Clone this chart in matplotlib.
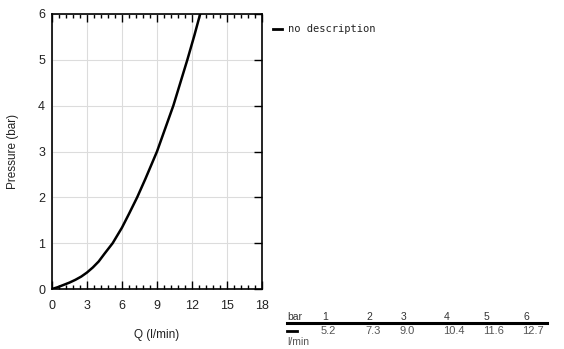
import numpy as np
import matplotlib.pyplot as plt
from matplotlib.ticker import MultipleLocator

plt.rcParams["font.family"] = ["Liberation Sans", "DejaVu Sans"]

# curve (Q l/min, pressure bar)
q = [0, 0.5, 1, 1.5, 2, 2.5, 3, 3.5, 4, 4.5, 5.2, 5.6, 6, 6.6, 7.3, 8.0,
     8.5, 9.0, 9.7, 10.4, 11.0, 11.6, 12.2, 12.7]
p = [0, 0.04, 0.09, 0.14, 0.2, 0.27, 0.36, 0.47, 0.6, 0.77, 1.0, 1.17, 1.34,
     1.64, 2.0, 2.4, 2.7, 3.0, 3.5, 4.0, 4.5, 5.0, 5.53, 6.0]

tab_bar = ["1", "2", "3", "4", "5", "6"]
tab_q = ["5.2", "7.3", "9.0", "10.4", "11.6", "12.7"]

fig = plt.figure(figsize=(5.64, 3.49), dpi=100)
ax = fig.add_axes([52/564, 60/349, 210/564, 275/349])

ax.plot(q, p, color="black", lw=1.8, solid_joinstyle="round")
ax.set_xlim(0, 18)
ax.set_ylim(0, 6)
ax.xaxis.set_major_locator(MultipleLocator(3))
ax.xaxis.set_minor_locator(MultipleLocator(0.6))
ax.yaxis.set_major_locator(MultipleLocator(1))
ax.grid(True, which="major", color="#dcdcdc", lw=0.8)
ax.tick_params(axis="x", which="both", direction="in", top=True, bottom=True,
               labelsize=9, pad=8, labelcolor="#222222")
ax.tick_params(axis="x", which="major", length=6, width=1)
ax.tick_params(axis="x", which="minor", length=3, width=1)
ax.tick_params(axis="y", direction="in", left=False, right=True, length=6,
               width=1, labelsize=9, pad=5, labelcolor="#222222")
for s in ax.spines.values():
    s.set_linewidth(1.2)
ax.set_xlabel("Q (l/min)", fontsize=8.5, labelpad=12, color="#222222")
ax.set_ylabel("Pressure (bar)", fontsize=8.5, labelpad=14, color="#222222")

# legend
fig.lines.append(plt.Line2D([273/564, 282/564], [1-29/349, 1-29/349],
                            color="black", lw=2, transform=fig.transFigure))
fig.text(288/564, 1-29/349, "no description", family="DejaVu Sans Mono",
         fontsize=7.5, va="center", color="#222222")

# value table
xs = [322, 366, 401, 444, 484, 523]
fig.text(287/564, 1-317/349, "bar", fontsize=7.5, color="#333333", va="center")
for x, b, v in zip(xs, tab_bar, tab_q):
    fig.text(x/564, 1-317/349, b, fontsize=7.5, color="#333333", va="center")
    fig.text((x - 1)/564, 1-331.5/349, v, fontsize=8, color="#555555", va="center")
fig.lines.append(plt.Line2D([287/564, 547/564], [1-322.5/349, 1-322.5/349],
                            color="black", lw=2.2, transform=fig.transFigure))
fig.lines.append(plt.Line2D([287/564, 297/564], [1-331/349, 1-331/349],
                            color="black", lw=2, transform=fig.transFigure))
fig.text(287/564, 1-342/349, "l/min", fontsize=7.5, color="#555555", va="center")

fig.savefig("out.png", dpi=100)
